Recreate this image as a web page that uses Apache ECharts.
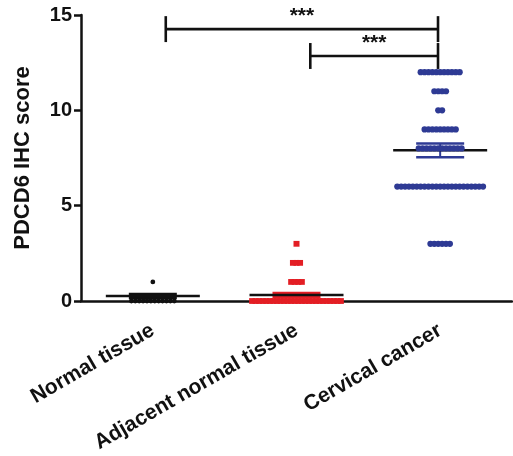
<!DOCTYPE html>
<html>
<head>
<meta charset="utf-8">
<script src="https://cdn.jsdelivr.net/npm/echarts@6/dist/echarts.min.js"></script>
<style>
html,body{margin:0;padding:0;background:#fff;}
#chart{width:513px;height:456px;}
</style>
</head>
<body>
<div id="chart"></div>
<script>
// ---- data ----
const categories = ['Normal tissue', 'Adjacent normal tissue', 'Cervical cancer'];
const yTicks = [0, 5, 10, 15];

// dot rows: score level and number of samples at that level
const normalLevels = [1, 0];
const normalCounts = [1, 12];
const adjacentLevels = [3, 2, 1, 0];
const adjacentCounts = [1, 3, 4, 26];
const cancerLevels = [12, 11, 10, 9, 8, 6, 3];
const cancerCounts = [11, 4, 2, 9, 12, 23, 6];

// mean and SEM per group
const means = [0.26, 0.31, 7.9];
const sems = [0.1, 0.11, 0.36];

// significance brackets (x in category units)
const bracketFrom = [0.09, 1.096];
const bracketTo = [1.985, 1.985];
const bracketLevel = [14.26, 12.85];
const bracketText = ['***', '***'];

// ---- styling ----
const FONT = 'Liberation Sans, Arial, sans-serif';
const colors = ['#111111', '#e31e24', '#2e3a94'];
const shapes = ['circle', 'rect', 'circle'];

function rows(levels, counts, cat) {
  return levels.map((l, i) => [cat, l, counts[i]]);
}
const dotData = [
  rows(normalLevels, normalCounts, 0),
  rows(adjacentLevels, adjacentCounts, 1),
  rows(cancerLevels, cancerCounts, 2)
];

function dotRenderer(color, shape) {
  return function (params, api) {
    const cat = api.value(0), lvl = api.value(1), n = api.value(2);
    const c = api.coord([cat, lvl]);
    const spacing = shape === 'rect' ? 3.55 : 3.9;
    const children = [];
    for (let i = 0; i < n; i++) {
      const x = c[0] + (i - (n - 1) / 2) * spacing;
      if (shape === 'rect') {
        children.push({type: 'rect', shape: {x: x - 3, y: c[1] - 2.9, width: 6, height: 5.8}, style: {fill: color}});
      } else {
        children.push({type: 'circle', shape: {cx: x, cy: c[1], r: cat === 0 ? 2.4 : 3.1}, style: {fill: color}});
      }
    }
    return {type: 'group', children};
  };
}

const errData = categories.map((c, i) => [i, means[i], sems[i]]);

const series = [];
// error bars (mean line + SEM)
series.push({
  type: 'custom',
  xAxisIndex: 0, yAxisIndex: 0,
  data: errData,
  z: 2,
  renderItem: function (params, api) {
    const cat = api.value(0), m = api.value(1), s = api.value(2);
    const pm = api.coord([cat, m]);
    const pu = api.coord([cat, m + s]);
    const pl = api.coord([cat, m - s]);
    const col = colors[cat];
    return {type: 'group', children: [
      {type: 'line', shape: {x1: pm[0], y1: pu[1], x2: pm[0], y2: pl[1]}, style: {stroke: col, lineWidth: 2}},
      {type: 'line', shape: {x1: pm[0] - 24, y1: pu[1], x2: pm[0] + 24, y2: pu[1]}, style: {stroke: col, lineWidth: 2.6}},
      {type: 'line', shape: {x1: pm[0] - 24, y1: pl[1], x2: pm[0] + 24, y2: pl[1]}, style: {stroke: col, lineWidth: 2.6}},
      {type: 'line', shape: {x1: pm[0] - 47, y1: pm[1], x2: pm[0] + 47, y2: pm[1]}, style: {stroke: '#111', lineWidth: 2.5}}
    ]};
  }
});
dotData.forEach((d, i) => {
  series.push({
    type: 'custom',
    xAxisIndex: 0, yAxisIndex: 0,
    data: d,
    z: 3,
    renderItem: dotRenderer(colors[i], shapes[i])
  });
});
// significance brackets
series.push({
  type: 'custom',
  xAxisIndex: 1, yAxisIndex: 0,
  data: bracketFrom.map((f, i) => [f, bracketTo[i], bracketLevel[i], i]),
  z: 4,
  renderItem: function (params, api) {
    const a = api.coord([api.value(0), api.value(2)]);
    const b = api.coord([api.value(1), api.value(2)]);
    const h = api.size([0, 0.68])[1];
    const idx = api.value(3);
    const st = {stroke: '#111', lineWidth: 2.6};
    return {type: 'group', children: [
      {type: 'line', shape: {x1: a[0], y1: a[1], x2: b[0], y2: b[1]}, style: st},
      {type: 'line', shape: {x1: a[0], y1: a[1] - h, x2: a[0], y2: a[1] + h}, style: st},
      {type: 'line', shape: {x1: b[0], y1: b[1] - h, x2: b[0], y2: b[1] + h}, style: st},
      {type: 'text', style: {text: bracketText[idx], x: (a[0] + b[0]) / 2, y: a[1] - 2,
        align: 'center', verticalAlign: 'bottom', fill: '#111',
        font: 'bold 21px ' + FONT}}
    ]};
  }
});

const chart = echarts.init(document.getElementById('chart'), null, {renderer: 'canvas'});
chart.setOption({
  backgroundColor: '#ffffff',
  animation: false,
  grid: {left: 81, right: 1, top: 15, bottom: 155, containLabel: false},
  xAxis: [{
    type: 'category',
    data: categories,
    boundaryGap: true,
    axisLine: {onZero: false, lineStyle: {color: '#111', width: 2.5}},
    axisTick: {alignWithLabel: true, length: 8, lineStyle: {color: '#111', width: 2.5}},
    axisLabel: {rotate: 30, margin: 28, color: '#111', fontSize: 21, fontWeight: 'bold', fontFamily: FONT, interval: 0}
  }, {
    type: 'value', min: -0.5, max: 2.5, show: false
  }],
  yAxis: {
    type: 'value',
    min: yTicks[0], max: yTicks[yTicks.length - 1], interval: yTicks[1] - yTicks[0],
    name: 'PDCD6 IHC score',
    nameLocation: 'middle',
    nameGap: 47,
    nameTextStyle: {color: '#111', fontSize: 22, fontWeight: 'bold', fontFamily: FONT},
    splitLine: {show: false},
    axisLine: {show: true, onZero: false, lineStyle: {color: '#111', width: 2.5}},
    axisTick: {show: true, length: 7, lineStyle: {color: '#111', width: 2.5}},
    axisLabel: {margin: 9, color: '#111', fontSize: 20, fontWeight: 'bold', fontFamily: FONT}
  },
  series: series
});
</script>
</body>
</html>
